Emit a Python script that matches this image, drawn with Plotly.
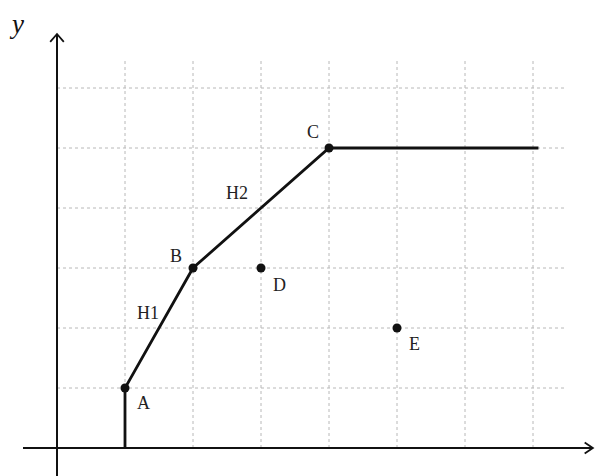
import plotly.graph_objects as go

# polyline through A, B, C then flat
path_x = [1, 1, 2, 4, 7.08]
path_y = [0, 1, 3, 5, 5]

point_names = ['A', 'B', 'C', 'D', 'E']
point_x = [1, 2, 4, 3, 5]
point_y = [1, 3, 5, 3, 2]

segment_names = ['H1', 'H2']
segment_x = [1.34, 2.65]
segment_y = [2.25, 4.25]

grid_x = [1, 2, 3, 4, 5, 6, 7]
grid_y = [1, 2, 3, 4, 5, 6]

# label offsets (x, y) relative to each point
offsets = {'A': (0.27, -0.25), 'B': (-0.25, 0.2), 'C': (-0.24, 0.26),
           'D': (0.27, -0.28), 'E': (0.25, -0.27)}

serif = dict(family='Liberation Serif', size=18, color='#222')

fig = go.Figure()

shapes = []
for gx in grid_x:
    shapes.append(dict(type='line', x0=gx, x1=gx, y0=0, y1=6.5, layer='below',
                       line=dict(color='#b8b8b8', width=1, dash='dot')))
for gy in grid_y:
    shapes.append(dict(type='line', x0=0, x1=7.5, y0=gy, y1=gy, layer='below',
                       line=dict(color='#b8b8b8', width=1, dash='dot')))

# axes
shapes.append(dict(type='line', x0=-0.5, x1=7.88, y0=0, y1=0, line=dict(color='#111', width=2)))
shapes.append(dict(type='line', x0=0, x1=0, y0=-0.6, y1=6.9, line=dict(color='#111', width=2)))
# arrow heads
shapes.append(dict(type='path', path='M 7.76,0.09 L 7.88,0 L 7.76,-0.09', line=dict(color='#111', width=1.8)))
shapes.append(dict(type='path', path='M -0.1,6.77 L 0,6.9 L 0.1,6.77', line=dict(color='#111', width=1.8)))

fig.add_trace(go.Scatter(x=path_x, y=path_y, mode='lines',
                         line=dict(color='#111', width=2.8), hoverinfo='skip'))
fig.add_trace(go.Scatter(x=point_x, y=point_y, mode='markers',
                         marker=dict(color='#111', size=9), hoverinfo='skip'))

annotations = []
for n, x, y in zip(point_names, point_x, point_y):
    dx, dy = offsets[n]
    annotations.append(dict(x=x + dx, y=y + dy, text=n, showarrow=False, font=serif))
for n, x, y in zip(segment_names, segment_x, segment_y):
    annotations.append(dict(x=x, y=y, text=n, showarrow=False, font=serif))
annotations.append(dict(x=-0.6, y=1, yref='paper', yanchor='top', text='<i>y</i>',
                        showarrow=False, borderpad=0,
                        font=dict(family='Liberation Serif', size=27, color='#111')))
annotations.append(dict(x=8.1, y=-0.22, text='<i>x</i>', showarrow=False,
                        font=dict(family='Liberation Serif', size=24, color='#111')))

# page body adds an 8px margin, so origin sits at (49, 440) inside the figure
fig.update_layout(
    width=608, height=476,
    margin=dict(l=0, r=0, t=0, b=0),
    paper_bgcolor='white', plot_bgcolor='white',
    showlegend=False,
    shapes=shapes, annotations=annotations,
    xaxis=dict(range=[-49 / 68, 559 / 68], visible=False, fixedrange=True),
    yaxis=dict(range=[-36 / 60, 440 / 60], visible=False, fixedrange=True),
)

fig.write_html("out.html")
